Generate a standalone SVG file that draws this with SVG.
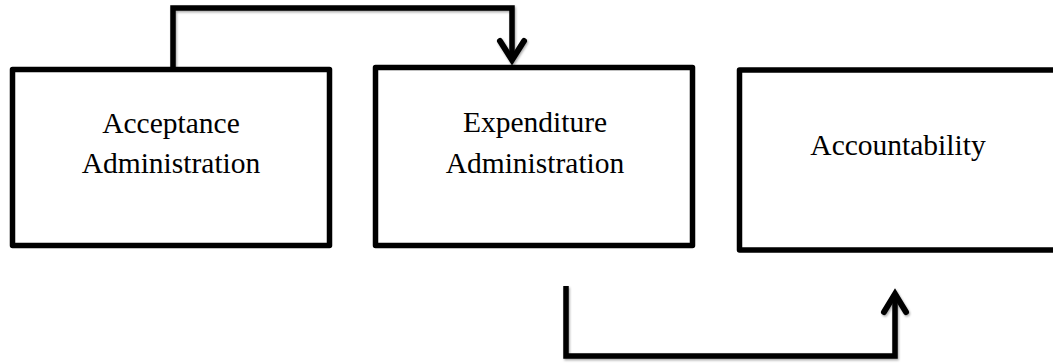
<svg xmlns="http://www.w3.org/2000/svg" width="1053" height="363" viewBox="0 0 1053 363">
<defs>
<style>
.box{fill:#fff;stroke:#000;stroke-width:5.5;stroke-linejoin:round}
.lbl{font-family:"Liberation Serif","Times New Roman",serif;font-size:29.5px;fill:#000;text-anchor:middle}
.conn{fill:none;stroke:#000;stroke-width:5.5;stroke-linejoin:miter;stroke-linecap:butt}
.head{fill:none;stroke:#000;stroke-width:6;stroke-linecap:round;stroke-linejoin:miter}
</style>
<filter id="sh" x="-5%" y="-5%" width="110%" height="110%">
<feDropShadow dx="1" dy="1.5" stdDeviation="1.2" flood-color="#000" flood-opacity="0.35"/>
</filter>
</defs>
<rect width="1053" height="363" fill="#fff"/>
<g id="connectors" filter="url(#sh)">
<path class="conn" d="M173,67 V8 H512 V60"/>
<path class="head" d="M500,41 L512,60 L524,41"/>
<path class="conn" d="M566,286 V356 H895 V295"/>
<path class="head" d="M884,312 L895,294 L906,312"/>
</g>
<g id="node-acceptance">
<rect class="box" x="12.5" y="69.5" width="317" height="176"/>
<text class="lbl" x="171" y="133">Acceptance</text>
<text class="lbl" x="171" y="173">Administration</text>
</g>
<g id="node-expenditure">
<rect class="box" x="375.5" y="67.5" width="317" height="178"/>
<text class="lbl" x="535" y="132">Expenditure</text>
<text class="lbl" x="535" y="173">Administration</text>
</g>
<g id="node-accountability">
<rect class="box" x="739.5" y="70" width="330" height="180"/>
<text class="lbl" x="898" y="155">Accountability</text>
</g>
</svg>
